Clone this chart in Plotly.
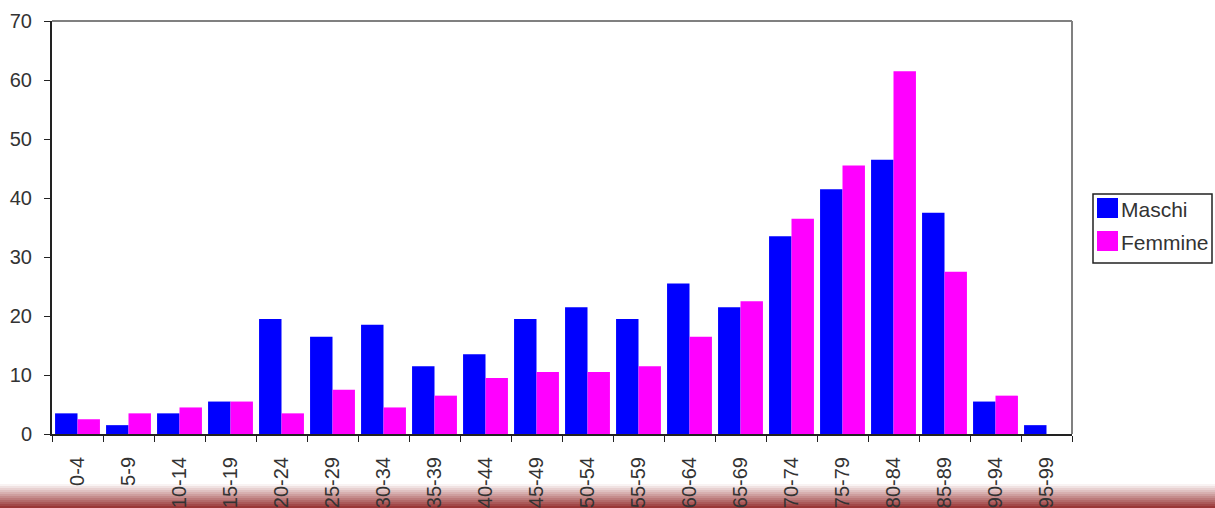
import plotly.graph_objects as go

categories = ["0-4", "5-9", "10-14", "15-19", "20-24", "25-29", "30-34", "35-39", "40-44", "45-49",
              "50-54", "55-59", "60-64", "65-69", "70-74", "75-79", "80-84", "85-89", "90-94", "95-99"]
maschi = [3.5, 1.5, 3.5, 5.5, 19.5, 16.5, 18.5, 11.5, 13.5, 19.5,
          21.5, 19.5, 25.5, 21.5, 33.5, 41.5, 46.5, 37.5, 5.5, 1.5]
femmine = [2.5, 3.5, 4.5, 5.5, 3.5, 7.5, 4.5, 6.5, 9.5, 10.5,
           10.5, 11.5, 16.5, 22.5, 36.5, 45.5, 61.5, 27.5, 6.5, 0]
y_ticks = [0, 10, 20, 30, 40, 50, 60, 70]
series_names = ["Maschi", "Femmine"]
series_colors = ["#0000FF", "#FF00FF"]

W, H = 1215, 508
L, R, T, B = 52, 143, 21, 74
PW = W - L - R
PH = H - T - B


def px(xp):
    return (xp - L) / PW


def py(yp):
    return (H - B - yp) / PH


fig = go.Figure()
for name, vals, col in zip(series_names, [maschi, femmine], series_colors):
    fig.add_trace(go.Bar(x=categories, y=vals, name=name, marker_color=col,
                         marker_line_width=0))

shapes = [
    dict(type="line", xref="paper", yref="paper", x0=0, x1=1, y0=1, y1=1, line=dict(color="#808080", width=2)),
    dict(type="line", xref="paper", yref="paper", x0=1, x1=1, y0=0, y1=1, line=dict(color="#808080", width=2)),
]
# slide background gradient at the bottom
n = 12
for i in range(n):
    p0 = 484 + i * 2
    p1 = p0 + 2
    shapes.append(dict(type="rect", xref="paper", yref="paper", x0=px(0), x1=px(W),
                       y0=py(p1), y1=py(p0),
                       fillcolor="#8B1A1A", opacity=0.05 + 0.075 * i, line=dict(width=0), layer="below"))

# legend box drawn by hand to match the reference's compact layout
annotations = []
shapes.append(dict(type="rect", xref="paper", yref="paper", x0=px(1093), x1=px(1212),
                   y0=py(263), y1=py(194), line=dict(color="#222", width=1.5), fillcolor="white"))
for i, (name, col) in enumerate(zip(series_names, series_colors)):
    cy = 208 + i * 33
    shapes.append(dict(type="rect", xref="paper", yref="paper", x0=px(1097), x1=px(1118),
                       y0=py(cy + 10), y1=py(cy - 10), line=dict(width=0), fillcolor=col))
    annotations.append(dict(xref="paper", yref="paper", x=px(1119), y=py(cy + 1), text=name,
                            showarrow=False, xanchor="left", yanchor="middle",
                            font=dict(size=21, color="#333")))

fig.update_layout(
    width=W, height=H,
    margin=dict(l=L, r=R, t=T, b=B, autoexpand=False),
    paper_bgcolor="white", plot_bgcolor="white",
    barmode="group", bargap=0.12, bargroupgap=0,
    showlegend=False,
    font=dict(family="Arial, Liberation Sans, sans-serif", color="#333333"),
    xaxis=dict(tickangle=-90, tickson="boundaries", ticks="outside", ticklen=6, tickcolor="#222",
               showline=True, linecolor="#222", linewidth=2, tickfont=dict(size=20, color="#333"),
               showgrid=False, ticklabelstandoff=13),
    yaxis=dict(range=[0, 70], tickvals=y_ticks, ticks="outside", ticklen=6, tickcolor="#222",
               showline=True, linecolor="#222", linewidth=2, showgrid=False, zeroline=False,
               tickfont=dict(size=20, color="#333"), ticklabelstandoff=8),
    shapes=shapes,
    annotations=annotations,
)

fig.write_html("out.html")
